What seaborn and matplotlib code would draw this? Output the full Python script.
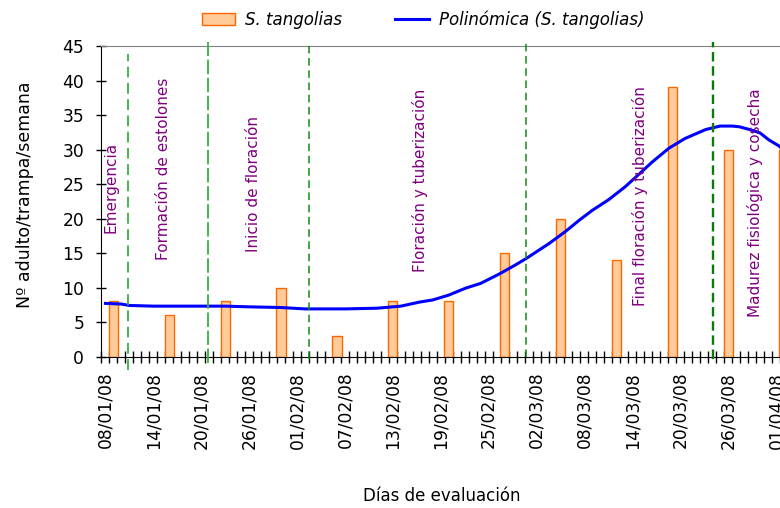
import numpy as np
import pandas as pd
import matplotlib
matplotlib.use('Agg')
import matplotlib.pyplot as plt
import seaborn as sns
from matplotlib.patches import Patch
from matplotlib.lines import Line2D

# weekly trap counts
start_date = '08/01/08'
bar_dates = ['09/01/08', '16/01/08', '23/01/08', '30/01/08', '06/02/08', '13/02/08',
             '20/02/08', '27/02/08', '05/03/08', '12/03/08', '19/03/08', '26/03/08',
             '02/04/08']
bar_values = [8, 6, 8, 10, 3, 8, 8, 15, 20, 14, 39, 30, 30]

# polynomial trendline (days since 08/01/08)
curve_days = [0, 2, 3, 6, 10, 15, 18, 22, 25, 30, 34, 37, 39.4, 41, 43, 45.1, 47,
              49.4, 51.4, 52.7, 55.6, 57.6, 59.4, 61, 63, 65.1, 67, 68.5, 70.6,
              72.6, 74.4, 75.2, 77, 78.5, 79.4, 81, 82, 83.1, 84.4, 85]
curve_values = [7.7, 7.6, 7.4, 7.3, 7.3, 7.3, 7.2, 7.1, 6.9, 6.9, 7.0, 7.3, 7.9, 8.2,
                8.9, 9.9, 10.6, 12.0, 13.3, 14.2, 16.4, 18.1, 19.8, 21.2, 22.7, 24.6,
                26.6, 28.2, 30.2, 31.6, 32.5, 32.9, 33.4, 33.4, 33.3, 32.8, 32.4, 31.4,
                30.5, 29.8]

tick_labels = ['08/01/08', '14/01/08', '20/01/08', '26/01/08', '01/02/08', '07/02/08',
               '13/02/08', '19/02/08', '25/02/08', '02/03/08', '08/03/08', '14/03/08',
               '20/03/08', '26/03/08', '01/04/08']

phase_names = ['Emergencia', 'Formación de estolones', 'Inicio de floración',
               'Floración y tuberización', 'Final floración y tuberización',
               'Madurez fisiológica y cosecha']
phase_days = [0.75, 7.25, 18.5, 39.4, 67.0, 81.4]
phase_heights = [17.9, 14.0, 15.2, 12.3, 7.3, 5.7]
phase_bounds = [2.8, 12.8, 25.55, 52.7, 76.05]

t0 = pd.to_datetime(start_date, format='%d/%m/%y')


def to_days(labels):
    return (pd.to_datetime(labels, format='%d/%m/%y') - t0).days


plt.rcParams['font.family'] = 'DejaVu Sans'

fig = plt.figure(figsize=(7.8, 5.08), dpi=100)
ax = fig.add_axes([0.1301, 0.2982, 0.8699, 0.6112])

df_bars = pd.DataFrame({'day': to_days(bar_dates), 'count': bar_values})
sns.barplot(data=df_bars, x='day', y='count', native_scale=True, width=1.15 / 7,
            color='#FFCC99', edgecolor='#FF6600', linewidth=1, saturation=1,
            errorbar=None, ax=ax, zorder=2)
sns.lineplot(x=curve_days, y=curve_values, color='#0000FF', linewidth=2.2, ax=ax,
             zorder=3)

ax.set_xlim(-0.5, 84.5)
ax.set_ylim(0, 45)

ax.set_xticks(to_days(tick_labels))
ax.set_xticklabels(tick_labels, rotation=90, fontsize=12.3)
ax.set_xticks(np.arange(-0.5, 85, 1), minor=True)
ax.tick_params(axis='x', which='major', length=0, pad=11)
ax.tick_params(axis='x', which='minor', direction='inout', length=9, width=1,
               color='black')
ax.set_yticks(range(0, 46, 5))
ax.tick_params(axis='y', direction='inout', length=7, width=1, pad=9, labelsize=12.3)

ax.spines['right'].set_visible(False)
ax.spines['top'].set_color('#808080')
ax.spines['left'].set_color('black')
ax.spines['bottom'].set_color('black')

# phase boundaries
line_tops = [43.8, 45.6, 45.6, 45.6, 45.6]
line_bots = [-2.0, -0.9, -0.3, -0.1, -0.3]
line_cols = ['#3CB043', '#3CB043', '#138A13', '#138A13', '#0A7A0A']
line_dash = [(0, (6, 3)), (0, (8, 2)), (0, (5, 3)), (0, (5, 3)), (0, (4, 2))]
line_w = [1.3, 1.3, 1.1, 1.1, 1.7]
for b, t, bt, c, d, w in zip(phase_bounds, line_tops, line_bots, line_cols, line_dash, line_w):
    ax.plot([b, b], [bt, t], color=c, linestyle=d, linewidth=w, clip_on=False, zorder=4)

for name, d, h in zip(phase_names, phase_days, phase_heights):
    ax.text(d, h, name, rotation=90, ha='center', va='bottom', color='#800080',
            fontsize=11, zorder=5)

ax.set_xlabel('Días de evaluación', fontsize=12)
ax.set_ylabel('Nº adulto/trampa/semana', fontsize=12.5)
ax.xaxis.set_label_coords(0.502, -0.42)
ax.yaxis.set_label_coords(-0.1, 0.52)

handles = [Patch(facecolor='#FFCC99', edgecolor='#FF6600', linewidth=1),
           Line2D([], [], color='#0000FF', linewidth=2.2)]
fig.legend(handles, ['S. tangolias', 'Polinómica (S. tangolias)'], loc='center',
           bbox_to_anchor=(0.542, 0.961), ncol=2, frameon=False,
           prop={'style': 'italic', 'size': 12}, handlelength=2,
           columnspacing=3.2, handletextpad=0.6)

plt.savefig('out.png', dpi=100)
